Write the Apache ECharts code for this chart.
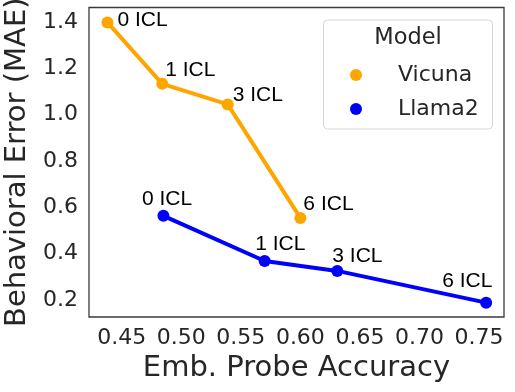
<!DOCTYPE html>
<html>
<head>
<meta charset="utf-8">
<script src="https://cdn.jsdelivr.net/npm/echarts@6/dist/echarts.min.js"></script>
<style>
html,body{margin:0;padding:0;background:#fff;}
#chart{width:515px;height:392px;}
</style>
</head>
<body>
<div id="chart"></div>
<script>
// ---- data ----
const iclLabels = ['0 ICL', '1 ICL', '3 ICL', '6 ICL'];
const vicunaAcc = [0.438, 0.484, 0.539, 0.600];
const vicunaMAE = [1.398, 1.133, 1.044, 0.554];
const llamaAcc = [0.485, 0.570, 0.631, 0.756];
const llamaMAE = [0.563, 0.368, 0.325, 0.188];
const xTicks = [0.45, 0.50, 0.55, 0.60, 0.65, 0.70, 0.75];
const yTicks = [0.2, 0.4, 0.6, 0.8, 1.0, 1.2, 1.4];
const seriesNames = ['Vicuna', 'Llama2'];
const legendTitle = 'Model';
const xTitle = 'Emb. Probe Accuracy';
const yTitle = 'Behavioral Error (MAE)';

// ---- label placement (styling) ----
const vicunaLabelOffsets = [[10, -2], [3, -14], [5, -9], [3, -14]];
const llamaLabelOffsets = [[-21.5, -16.5], [-9.5, -16.5], [-5, -14.5], [-44, -21.5]];

function build(xs, ys, offsets) {
  return xs.map((x, i) => ({
    value: [x, ys[i]],
    label: { offset: offsets[i] }
  }));
}

const labelStyle = {
  show: true,
  position: 'inside',
  align: 'left',
  verticalAlign: 'middle',
  formatter: p => iclLabels[p.dataIndex],
  fontFamily: 'Liberation Sans',
  fontSize: 21,
  color: '#000'
};

const tickFont = { fontFamily: 'DejaVu Sans', fontSize: 22, color: '#262626' };

const chart = echarts.init(document.getElementById('chart'), null, { renderer: 'canvas' });
chart.setOption({
  animation: false,
  backgroundColor: '#fff',
  grid: {
    left: 89, top: 7.5, right: 11, bottom: 75,
    outerBoundsMode: 'none',
    containLabel: false,
    show: true, borderColor: '#3a3a3a', borderWidth: 1.3, backgroundColor: 'transparent'
  },
  xAxis: {
    type: 'value',
    min: 0.4225, max: 0.771,
    name: xTitle,
    nameLocation: 'middle',
    nameGap: 36,
    nameTextStyle: { fontFamily: 'DejaVu Sans', fontSize: 29, color: '#262626' },
    axisLine: { show: false },
    axisTick: { show: false },
    splitLine: { show: false },
    axisLabel: Object.assign({
      customValues: xTicks,
      margin: 10,
      formatter: v => v.toFixed(2)
    }, tickFont)
  },
  yAxis: {
    type: 'value',
    min: 0.126, max: 1.4625,
    name: yTitle,
    nameLocation: 'middle',
    nameGap: 54,
    nameTextStyle: { fontFamily: 'DejaVu Sans', fontSize: 29, color: '#262626' },
    axisLine: { show: false },
    axisTick: { show: false },
    splitLine: { show: false },
    axisLabel: Object.assign({
      customValues: yTicks,
      margin: 11,
      formatter: v => v.toFixed(1)
    }, tickFont)
  },
  legend: {
    data: seriesNames.map(n => ({ name: n, icon: 'circle' })),
    orient: 'vertical',
    left: 350,
    top: 64,
    itemWidth: 12,
    itemHeight: 12,
    itemGap: 12,
    padding: 0,
    textStyle: {
      fontFamily: 'DejaVu Sans', fontSize: 22, color: '#262626',
      lineHeight: 22, padding: [0, 0, 0, 31]
    }
  },
  graphic: [
    {
      type: 'rect', z: 3, silent: true,
      shape: { x: 323.5, y: 20, width: 169, height: 109, r: 4 },
      style: { fill: 'rgba(255,255,255,0.8)', stroke: '#d6d6d6', lineWidth: 1 }
    },
    {
      type: 'text', z: 5, silent: true,
      x: 408, y: 38,
      style: {
        text: legendTitle, fontFamily: 'DejaVu Sans', fontSize: 22.5, fill: '#262626',
        align: 'center', verticalAlign: 'middle'
      }
    }
  ],
  series: [
    {
      name: seriesNames[0],
      type: 'line',
      data: build(vicunaAcc, vicunaMAE, vicunaLabelOffsets),
      color: '#FFA500',
      lineStyle: { width: 4, color: '#FFA500' },
      symbol: 'circle',
      symbolSize: 12,
      itemStyle: { color: '#FFA500' },
      label: labelStyle,
      z: 2
    },
    {
      name: seriesNames[1],
      type: 'line',
      data: build(llamaAcc, llamaMAE, llamaLabelOffsets),
      color: '#0000FF',
      lineStyle: { width: 4, color: '#0000FF' },
      symbol: 'circle',
      symbolSize: 12,
      itemStyle: { color: '#0000FF' },
      label: labelStyle,
      z: 2
    }
  ]
});
</script>
</body>
</html>
